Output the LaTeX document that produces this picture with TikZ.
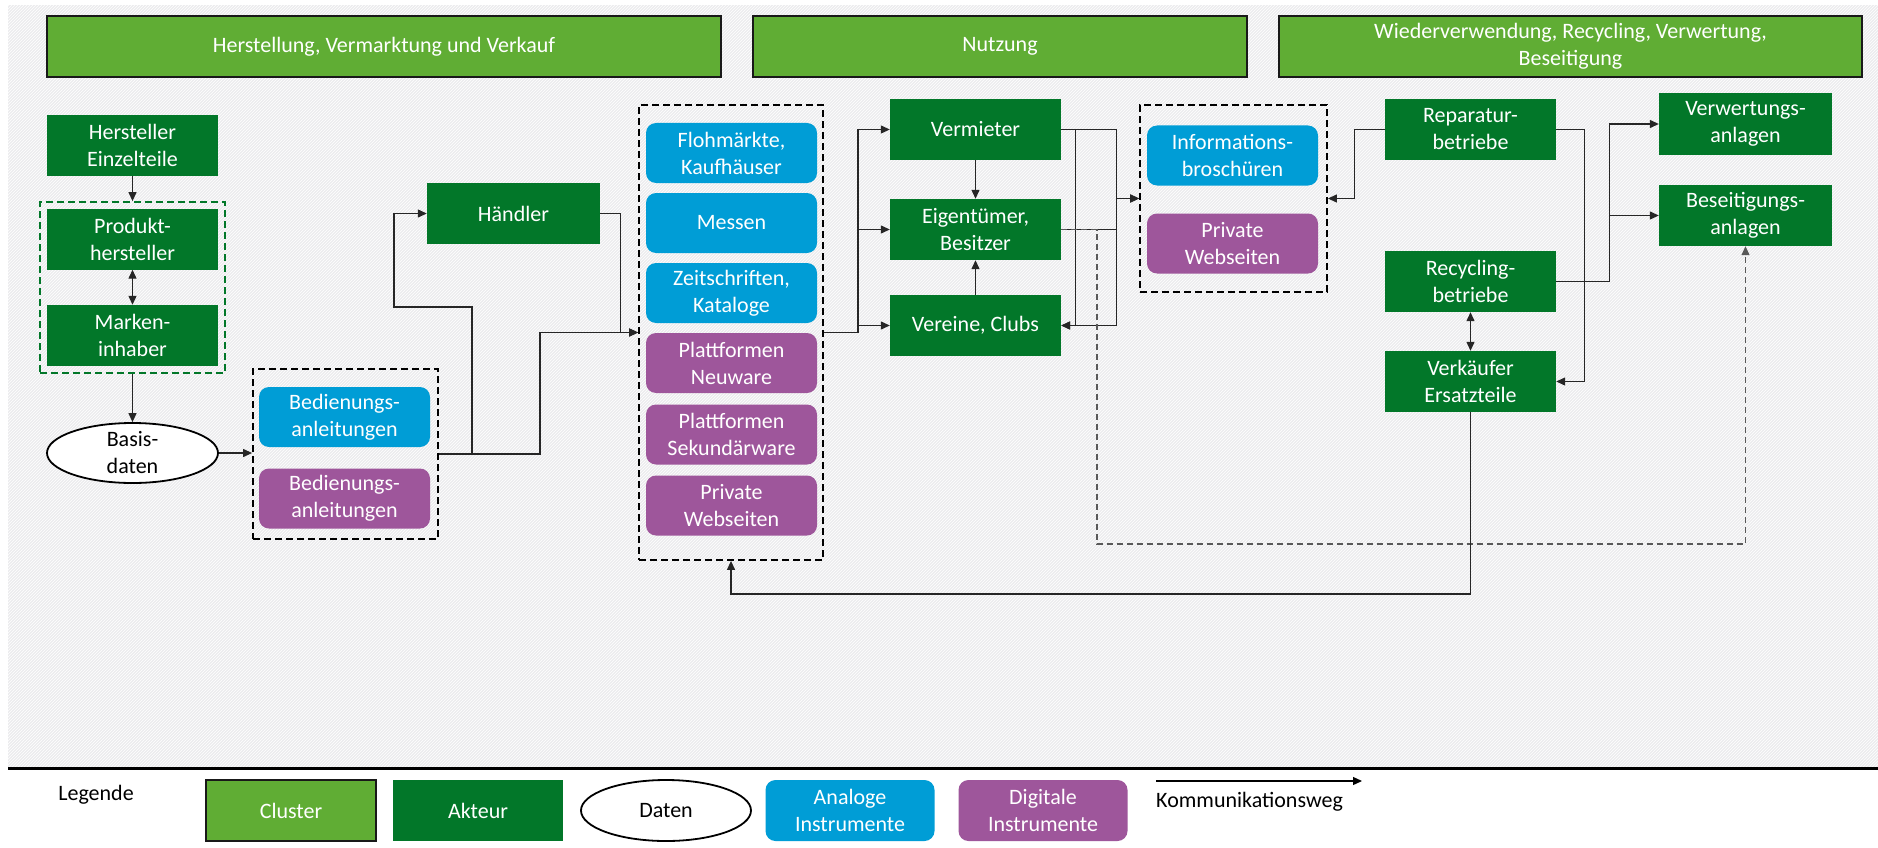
\documentclass[tikz,border=0pt]{standalone}
\usepackage{fontspec}
\setmainfont{Carlito}
\definecolor{clustergreen}{RGB}{96,173,52}
\definecolor{actorgreen}{RGB}{2,119,41}
\definecolor{analogblue}{RGB}{0,157,214}
\definecolor{digitalpurple}{RGB}{158,86,155}
\definecolor{bggray}{RGB}{236,236,238}
\usetikzlibrary{arrows.meta,positioning,shapes.geometric,patterns}

\begin{document}
\begin{tikzpicture}[x=1pt, y=-1pt,
    every node/.style={font=\fontsize{22}{27}\selectfont, align=center, inner sep=0pt},
    cluster/.style={rectangle, fill=clustergreen, draw=black!90, line width=2.5pt, text=white, minimum height=61pt},
    actor/.style={rectangle, fill=actorgreen, text=white, minimum width=171pt, minimum height=61pt},
    analog/.style={rectangle, rounded corners=10pt, fill=analogblue, text=white, minimum width=171pt, minimum height=60pt},
    digital/.style={analog, fill=digitalpurple},
    data/.style={ellipse, draw=black, line width=1.8pt, fill=white, minimum width=171pt, minimum height=60pt},
    groupbox/.style={rectangle, draw=black, dash pattern=on 7pt off 4pt, line width=1.8pt},
    conn/.style={draw=black!85, line width=1.2pt, -{Triangle[length=9pt,width=8pt]}},
    dualconn/.style={conn, {Triangle[length=9pt,width=8pt]}-{Triangle[length=9pt,width=8pt]}},
    returnconn/.style={conn, draw=black!65, dash pattern=on 6pt off 4pt}]
    \useasboundingbox (0,0) rectangle (1878,848);
    \fill[white] (0,0) rectangle (1878,848);
    \fill[bggray] (8,5) rectangle (1878,767);
    \fill[pattern=north east lines, pattern color=white] (8,5) rectangle (1878,767);
    \draw[line width=3pt] (8,768) -- (1878,768);

    \node[cluster, minimum width=674pt] (herstellung) at (384,46.5) {Herstellung, Vermarktung und Verkauf};
    \node[cluster, minimum width=494pt] (nutzung) at (1000,46.5) {Nutzung};
    \node[cluster, minimum width=583pt] (wiederverwendung) at (1570.5,46.5) {Wiederverwendung, Recycling, Verwertung,\\Beseitigung};

    \node[actor] (einzelteile) at (132.5,145.5) {Hersteller\\Einzelteile};
    \node[groupbox, draw=actorgreen, minimum width=185pt, minimum height=171pt] (herstellergruppe) at (132.5,287.5) {};
    \node[actor] (produkthersteller) at (132.5,239) {Produkt-\\hersteller};
    \node[actor] (markeninhaber) at (132.5,335.5) {Marken-\\inhaber};
    \node[data] (basisdaten) at (132.5,453) {Basis-\\daten};

    \node[groupbox, minimum width=185pt, minimum height=170pt] (anleitungen) at (345.5,454) {};
    \node[analog] (anleitunganalog) at (344.5,417) {Bedienungs-\\anleitungen};
    \node[digital] (anleitungdigital) at (344.5,498.5) {Bedienungs-\\anleitungen};
    \node[actor, minimum width=173pt] (haendler) at (513.5,213.5) {Händler};

    \node[groupbox, minimum width=184pt, minimum height=455pt] (vertrieb) at (731,332.5) {};
    \node[analog] (flohmaerkte) at (731.5,153) {Flohmärkte,\\Kaufhäuser};
    \node[analog] (messen) at (731.5,223) {Messen};
    \node[analog] (zeitschriften) at (731.5,293) {Zeitschriften,\\Kataloge};
    \node[digital] (neuware) at (731.5,363) {Plattformen\\Neuware};
    \node[digital] (sekundaerware) at (731.5,434.5) {Plattformen\\Sekundärware};
    \node[digital] (webseitenvertrieb) at (731.5,505.5) {Private\\Webseiten};

    \node[actor] (vermieter) at (975.5,129.5) {Vermieter};
    \node[actor] (eigentuemer) at (975.5,229.5) {Eigentümer,\\Besitzer};
    \node[actor] (vereine) at (975.5,325.5) {Vereine, Clubs};

    \node[groupbox, minimum width=187pt, minimum height=187pt] (information) at (1233.5,198.5) {};
    \node[analog] (broschueren) at (1232.5,155.5) {Informations-\\broschüren};
    \node[digital] (webseiteninfo) at (1232.5,243.5) {Private\\Webseiten};

    \node[actor] (reparatur) at (1470.5,129.5) {Reparatur-\\betriebe};
    \node[actor] (recycling) at (1470.5,281.5) {Recycling-\\betriebe};
    \node[actor] (ersatzteile) at (1470.5,381.5) {Verkäufer\\Ersatzteile};
    \node[actor, minimum width=173pt] (verwertungsanlagen) at (1745.5,124) {Verwertungs-\\anlagen};
    \node[actor, minimum width=173pt] (beseitigungsanlagen) at (1745.5,215.5) {Beseitigungs-\\anlagen};

    \draw[conn] (einzelteile) -- (herstellergruppe);
    \draw[dualconn] (produkthersteller) -- (markeninhaber);
    \draw[conn] (herstellergruppe) -- (basisdaten);
    \draw[conn] (basisdaten.east) -- (basisdaten.east -| anleitungen.west);
    \draw[conn] (anleitungen.east) -- ++(101,0) |- (vertrieb.west);
    \draw[conn] (anleitungen.east) -- ++(33,0) -- ++(0,-147) -- ++(-78,0) |- (haendler.west);
    \draw[conn] (haendler.east) -- ++(20,0) |- (vertrieb.west);
    \foreach \ziel in {vermieter,eigentuemer,vereine}
        \draw[conn] (vertrieb.east) -- ++(34,0) |- (\ziel.west);
    \draw[conn] (vermieter) -- (eigentuemer);
    \draw[conn] (vereine) -- (eigentuemer);
    \draw[conn] (vermieter.east) -- ++(14,0) |- (vereine.east);
    \foreach \quelle in {vermieter,eigentuemer}
        \draw[conn] (\quelle.east) -- ++(55,0) |- (information.west);
    \draw[conn] (eigentuemer.east) -- ++(55,0) |- (vereine.east);
    \coordinate (umweg) at (1097,544);
    \draw[returnconn] (eigentuemer.east) -| (umweg) -| (beseitigungsanlagen.south);
    \draw[conn] (reparatur.west) -- ++(-30,0) |- (information.east);
    \draw[conn] (reparatur.east) -- ++(28,0) |- (ersatzteile.east);
    \foreach \ziel in {verwertungsanlagen,beseitigungsanlagen}
        \draw[conn] (recycling.east) -- ++(53,0) |- (\ziel.west);
    \draw[dualconn] (recycling) -- (ersatzteile);
    \coordinate (rueckweg) at (1100,594);
    \draw[conn] (ersatzteile.south) |- (rueckweg -| vertrieb.south) -- (vertrieb.south);

    \node (legende) at (96,795) {Legende};
    \node[cluster, line width=2pt, minimum width=170pt] (legcluster) at (291,810.5) {Cluster};
    \node[actor, minimum width=170pt] (legakteur) at (478,810.5) {Akteur};
    \node[data, minimum width=170pt, minimum height=61pt] (legdaten) at (666,810.5) {Daten};
    \node[analog, minimum width=169pt, minimum height=61pt] (legana) at (850,810.5) {Analoge\\Instrumente};
    \node[digital, minimum width=169pt, minimum height=61pt] (legdig) at (1043,810.5) {Digitale\\Instrumente};
    \coordinate (pfeilstart) at (1156,781);
    \coordinate (pfeilende) at (1362,781);
    \draw[conn, draw=black] (pfeilstart) -- (pfeilende);
    \node[anchor=west] (legweg) at (1156,802) {Kommunikationsweg};
\end{tikzpicture}
\end{document}
